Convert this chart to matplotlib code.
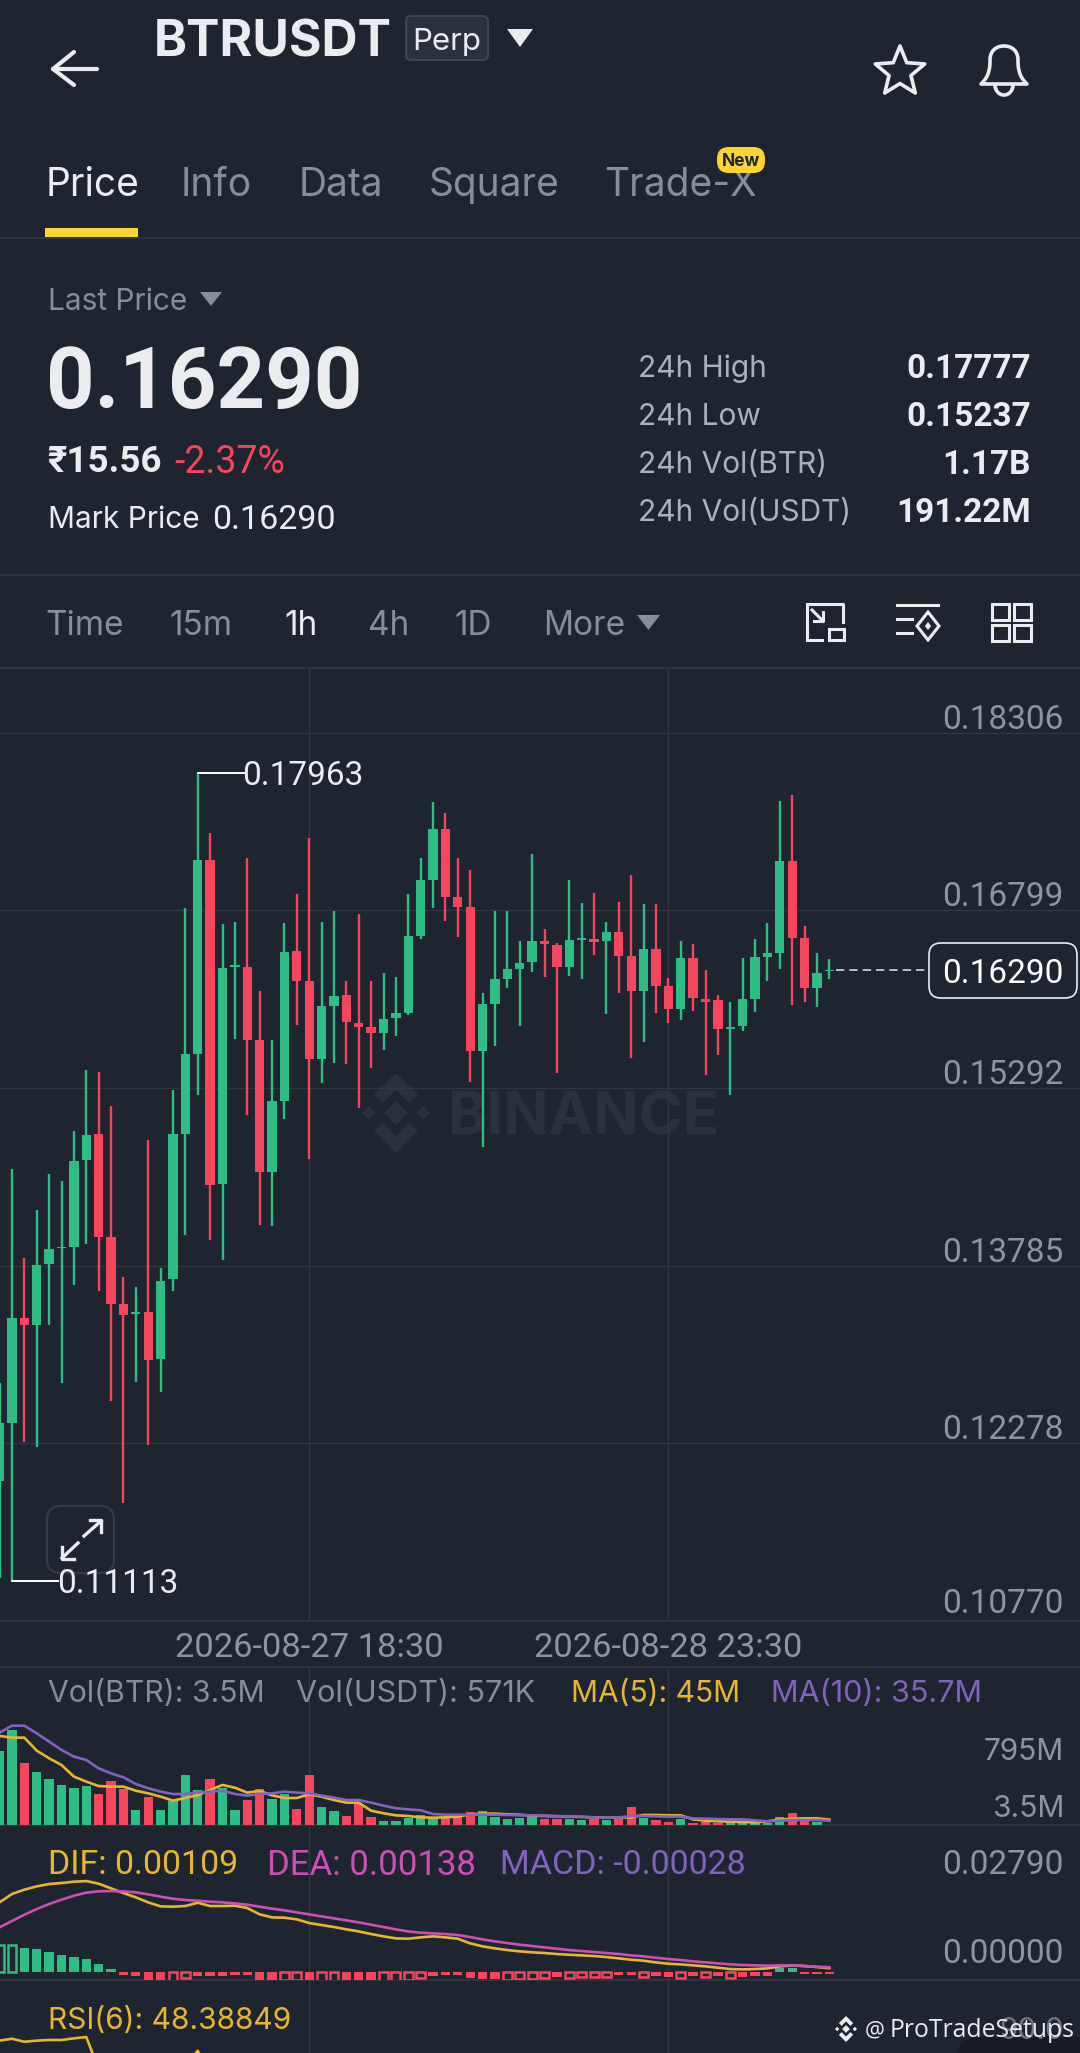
import matplotlib
matplotlib.use('Agg')
import matplotlib.pyplot as plt
import numpy as np
from matplotlib.patches import FancyBboxPatch, Polygon, Rectangle, PathPatch, Arc
from matplotlib.path import Path

plt.rcParams['font.family'] = ['Inter', 'DejaVu Sans']

# candles
opens = [.11954, .12453, .13343, .13279, .13800, .13933, .13942, .14678, .14899, .14027,
         .13458, .13373, .13391, .12989, .13670, .14902, .15581, .17231, .14475, .16322,
         .16322, .15700, .14578, .15186, .16454, .16203, .15539, .15991, .16079, .15847,
         .15807, .15757, .15884, .15926, .16581, .17059, .17488, .16915, .16830, .15610,
         .16008, .16214, .16302, .16358, .16539, .16505, .16316, .16548, .16553, .16539,
         .16613, .16415, .16118, .16471, .16158, .15966, .16398, .16048, .16039, .15793,
         .15819, .16050, .16406, .16440, .17220, .16564, .16144, .16283]
closes = [.12447, .13343, .13283, .13794, .13927, .13945, .14669, .14896, .14027, .13458,
          .13367, .13388, .12983, .13655, .14905, .15579, .17231, .14466, .16313, .16339,
          .15700, .14578, .15186, .16449, .16203, .15536, .15991, .16076, .15853, .15813,
          .15757, .15875, .15932, .16581, .17056, .17488, .16912, .16830, .15610, .16008,
          .16214, .16302, .16355, .16542, .16511, .16316, .16545, .16567, .16531, .16613,
          .16415, .16118, .16471, .16158, .15966, .16398, .16053, .16025, .15790, .15813,
          .16050, .16403, .16435, .17223, .16567, .16144, .16271, .16290]
highs = [.12786, .14602, .13846, .14260, .14566, .14502, .14929, .15447, .15429, .15141,
         .13688, .13603, .14854, .13764, .15277, .16824, .17963, .17460, .16683, .16700,
         .17243, .16115, .15700, .16689, .16943, .17418, .16697, .16796, .16203, .16765,
         .16197, .16265, .16231, .16943, .17248, .17720, .17630, .17248, .17146, .16096,
         .16796, .16793, .16536, .17276, .16638, .16525, .17056, .16861, .16949, .16700,
         .16867, .17096, .16858, .16850, .16226, .16539, .16516, .16290, .16079, .16019,
         .16398, .16559, .16694, .17726, .17777, .16669, .16435, .16384]
lows = [.11136, .11113, .12287, .12247, .13279, .12786, .13619, .13973, .13567, .12635,
        .11772, .12801, .12265, .12710, .13573, .14042, .15234, .14003, .13833, .15711,
        .15064, .14130, .14118, .15028, .15824, .14693, .15338, .15502, .15494, .15121,
        .15466, .15615, .15737, .15915, .16553, .16816, .16709, .16570, .15341, .14788,
        .15649, .16144, .15819, .16279, .16237, .15418, .16242, .16214, .16423, .15920,
        .16101, .15550, .15686, .15932, .15841, .15870, .15949, .15401, .15570, .15237,
        .15779, .15937, .16197, .16305, .16000, .16022, .15977, .16214]

# volume in millions
volume = [622, 795, 519, 446, 382, 332, 312, 326, 259, 371,
          301, 126, 232, 126, 204, 419, 293, 385, 307, 128,
          206, 301, 218, 257, 134, 419, 153, 117, 75, 176,
          70, 33, 33, 61, 84, 56, 61, 70, 112, 117,
          64, 50, 56, 64, 47, 53, 47, 42, 47, 45,
          47, 153, 56, 39, 25, 50, 14, 22, 14, 22,
          22, 22, 14, 64, 98, 33, 25, 3.5]
ma5 = [745, 731, 731, 622, 558, 502, 405, 363, 326, 321,
       321, 287, 265, 237, 204, 226, 251, 293, 335, 312,
       271, 285, 248, 226, 226, 257, 237, 209, 187, 187,
       120, 98, 81, 75, 64, 61, 64, 70, 89, 95,
       95, 89, 86, 78, 75, 73, 70, 67, 64, 61,
       64, 64, 84, 84, 81, 81, 47, 36, 31, 28,
       25, 22, 31, 45, 53, 56, 56, 45]
ma10 = [773, 831, 831, 767, 698, 628, 572, 544, 474, 432,
        399, 343, 307, 279, 259, 259, 273, 279, 287, 259,
        246, 259, 265, 279, 271, 265, 246, 229, 209, 209,
        187, 162, 140, 131, 123, 92, 86, 86, 86, 86,
        86, 84, 81, 81, 78, 75, 73, 70, 64, 61,
        64, 75, 75, 73, 70, 70, 56, 53, 50, 47,
        47, 39, 31, 36, 42, 42, 42, 35.7]

dif = [.02134, .02391, .02524, .02627, .02698, .02729, .02770, .02790, .02709, .02565,
       .02421, .02288, .02134, .02011, .02001, .02021, .02124, .02021, .02021, .02031,
       .01960, .01765, .01672, .01662, .01611, .01498, .01436, .01375, .01303, .01241,
       .01159, .01088, .01026, .01016, .01057, .01088, .01057, .01016, .00872, .00780,
       .00718, .00667, .00626, .00595, .00575, .00544, .00523, .00503, .00482, .00451,
       .00410, .00369, .00339, .00287, .00246, .00226, .00195, .00164, .00123, .00082,
       .00072, .00082, .00103, .00164, .00195, .00174, .00144, .00109]
dea = [.01365, .01560, .01754, .01929, .02083, .02216, .02339, .02432, .02473, .02483,
       .02473, .02442, .02380, .02309, .02247, .02206, .02185, .02155, .02134, .02103,
       .02062, .02001, .01939, .01888, .01826, .01765, .01703, .01642, .01580, .01518,
       .01447, .01375, .01303, .01241, .01200, .01180, .01159, .01129, .01067, .00995,
       .00934, .00882, .00831, .00790, .00749, .00708, .00667, .00636, .00605, .00575,
       .00544, .00503, .00472, .00431, .00390, .00359, .00318, .00287, .00257, .00226,
       .00205, .00195, .00185, .00195, .00195, .00174, .00154, .00138]
macd = [.00821, .00821, .00739, .00687, .00605, .00513, .00462, .00390, .00246, .00082,
        -.00103, -.00133, -.00257, -.00277, -.00277, -.00205, -.00123, -.00123, -.00123, -.00113,
        -.00113, -.00257, -.00287, -.00257, -.00257, -.00257, -.00308, -.00308, -.00257, -.00277,
        -.00277, -.00328, -.00328, -.00257, -.00205, -.00133, -.00103, -.00103, -.00205, -.00226,
        -.00226, -.00257, -.00226, -.00226, -.00205, -.00174, -.00205, -.00174, -.00154, -.00154,
        -.00113, -.00113, -.00174, -.00123, -.00154, -.00185, -.00123, -.00174, -.00133, -.00205,
        -.00174, -.00133, -.00133, .00103, .00103, -.00082, -.00082, -.00070]
macd_hollow = [0, 1, 14, 15, 23, 24, 26, 27, 31, 32, 33, 34, 41, 42, 43, 44, 46, 47, 48, 49, 52, 55, 57, 59]

# only the start of the RSI line is on screen
rsi6 = [89.5, 91.0, 88.6, 89.5, 90.0, 90.0, 91.3, 92.4, 66.8, 58, 52, 48, 50, 55, 62, 70, 81.4, 62]

price_ticks = [.18306, .16799, .15292, .13785, .12278, .10770]
price_labels = ['0.18306', '0.16799', '0.15292', '0.13785', '0.12278', '0.10770']
date_idx = [25, 54]
date_labels = ['2026-08-27 18:30', '2026-08-28 23:30']
last_price = .16290

BG = '#1e2530'
GRID = '#303742'
GREEN = '#2ebd85'
RED = '#f6465d'
MUTED = '#848e9c'
AXIS_TXT = '#8f959e'
WHITE = '#eaecef'
YELLOW = '#e8b52f'
PINK = '#cc4fb5'
PURPLE = '#8263c0'
NUM = ['Roboto', 'Inter', 'DejaVu Sans']
NUM_SIZE = 24
W, H = 1080, 2053
PX = 0.72  # points per pixel at dpi 100

fig = plt.figure(figsize=(W / 100, H / 100), dpi=100, facecolor=BG)


def panel(top, bottom, zorder=1):
    ax = fig.add_axes([0, 1 - bottom / H, 1, (bottom - top) / H], zorder=zorder)
    ax.patch.set_visible(False)
    ax.axis('off')
    return ax


bg = panel(0, H, 0)
bg.set_xlim(0, W)
bg.set_ylim(H, 0)
ui = panel(0, H, 5)
ui.set_xlim(0, W)
ui.set_ylim(H, 0)


def txt(x, yc, s, size, color=WHITE, ha='left', weight='normal', ax=ui, **kw):
    # yc is the middle of the capitals
    base = yc + 0.3635 * size / PX
    return ax.text(x, base, s, fontsize=size, color=color, ha=ha, va='baseline', fontweight=weight, **kw)


def logo(ax, cx, cy, s, color, zorder=1):
    def diamond(x, y, r):
        ax.add_patch(Polygon([(x, y - r), (x + r, y), (x, y + r), (x - r, y)], fc=color, ec='none', zorder=zorder))
    diamond(cx, cy, 0.3 * s)
    diamond(cx - 0.68 * s, cy, 0.17 * s)
    diamond(cx + 0.68 * s, cy, 0.17 * s)
    for sgn in (-1, 1):
        ax.add_patch(Polygon([(cx, cy + sgn * s), (cx + 0.55 * s, cy + sgn * 0.45 * s),
                              (cx + 0.34 * s, cy + sgn * 0.24 * s), (cx, cy + sgn * 0.58 * s),
                              (cx - 0.34 * s, cy + sgn * 0.24 * s), (cx - 0.55 * s, cy + sgn * 0.45 * s)],
                             fc=color, ec='none', zorder=zorder))


# chart panels share one index scale: candle 25 sits at 309px, 12.385px apart
x = np.arange(len(opens))
STEP = 12.385
xlim = (25 - 309.2 / STEP, 25 + (W - 309.2) / STEP)

price_ax = panel(669, 1621)
price_ax.set_xlim(*xlim)
price_ax.set_ylim(.10770, .18848)
vol_ax = panel(1667, 1825)
vol_ax.set_xlim(*xlim)
vol_ax.set_ylim(0, 1322)
macd_ax = panel(1825, 1980)
macd_ax.set_xlim(*xlim)
macd_ax.set_ylim(-.00255, .04515)
rsi_ax = panel(1980, H)
rsi_ax.set_xlim(*xlim)
rsi_ax.set_ylim(79.6, 138)

for ax in (price_ax, vol_ax, macd_ax, rsi_ax):
    for i in date_idx:
        ax.axvline(i, color=GRID, lw=1.0, zorder=0)

for t in price_ticks[:-1]:
    price_ax.axhline(t, color=GRID, lw=1.0, zorder=0)

for t, lab in zip(price_ticks, price_labels):
    off = 17 if lab == '0.10770' else 13
    price_ax.annotate(lab, (1064 / W, t), xycoords=price_ax.get_yaxis_transform(), xytext=(0, off),
                      textcoords='offset pixels', ha='right', va='center', fontsize=NUM_SIZE, color=AXIS_TXT,
                      family=NUM, annotation_clip=False)

for i, lab in zip(date_idx, date_labels):
    price_ax.annotate(lab, (i, 0), xycoords=price_ax.get_xaxis_transform(), xytext=(0, -27),
                      textcoords='offset pixels', ha='center', va='center', fontsize=24.8, color=AXIS_TXT,
                      family=NUM, annotation_clip=False)

cols = [GREEN if c >= o else RED for o, c in zip(opens, closes)]
price_ax.vlines(x, lows, highs, colors=cols, lw=1.7, zorder=2)
price_ax.bar(x, np.abs(np.array(closes) - np.array(opens)), bottom=np.minimum(opens, closes),
             width=0.75, color=cols, zorder=3)

# last price marker
price_ax.plot([x[-1] + 0.5, 59.5 + 25], [last_price, last_price], color=WHITE, lw=1.2, dashes=(5, 3), zorder=2, alpha=.9)

# high / low leaders
hi = int(np.argmax(highs))
lo = int(np.argmin(lows))
price_ax.plot([hi, hi + 3.75], [highs[hi], highs[hi]], color='white', lw=1.4, zorder=4)
price_ax.plot([lo, lo + 3.75], [lows[lo], lows[lo]], color='white', lw=1.4, zorder=4)
price_ax.annotate('0.17963', (hi + 3.6, highs[hi]), xytext=(0, -3), textcoords='offset pixels', va='center',
                  fontsize=NUM_SIZE, color=WHITE, zorder=6, family=NUM)

# the low label sits above the expand button, so it goes on the top layer
ui.annotate('0.11113', (57, 1584), va='center', fontsize=NUM_SIZE, color=WHITE, zorder=6, family=NUM)

# volume
vol_ax.bar(x, volume, width=0.75, color=cols, zorder=2)
vol_ax.plot(x, ma5, color=YELLOW, lw=1.9, zorder=3)
vol_ax.plot(x, ma10, color=PURPLE, lw=1.9, zorder=4)

# macd
macd_cols = [GREEN if v >= 0 else RED for v in macd]
for i, v in enumerate(macd):
    if i in macd_hollow:
        macd_ax.bar(i, v, width=0.72, facecolor=BG, edgecolor=macd_cols[i], lw=1.8, zorder=2)
    else:
        macd_ax.bar(i, v, width=0.75, color=macd_cols[i], zorder=2)
macd_ax.plot(x, dif, color=YELLOW, lw=1.9, zorder=3)
macd_ax.plot(x, dea, color=PINK, lw=1.9, zorder=4)

# rsi
rsi_ax.plot(x[:len(rsi6)], rsi6, color=YELLOW, lw=1.9, zorder=3)

# panel borders
for yy in (238, 575, 668, 1621, 1667, 1825, 1980):
    bg.plot([0, W], [yy, yy], color=GRID, lw=1.3, zorder=1)

# watermark behind the candles
wm = '#2a313c'
logo(bg, 396, 1113, 40, wm)
txt(447, 1113, 'BINANCE', 43, color=wm, weight='bold', ax=bg)

# header
txt(154, 38, 'BTRUSDT', 36, color=WHITE, weight='bold')
ui.add_patch(FancyBboxPatch((406, 16), 82, 44, boxstyle='round,pad=0,rounding_size=5', fc='#2b323d', ec='#414955', lw=1.3))
txt(447, 39, 'Perp', 22.5, ha='center')
ui.add_patch(Polygon([(507, 29), (533, 29), (520, 47)], fc=WHITE, ec='none'))
ui.plot([53, 97], [69, 69], color=WHITE, lw=3, solid_capstyle='round')
ui.plot([74, 53, 74], [52, 69, 85], color=WHITE, lw=3, solid_capstyle='round', solid_joinstyle='round')
ang = np.radians(np.arange(0, 360, 36) - 90)
rad = np.where(np.arange(10) % 2 == 0, 26, 11.5)
ui.add_patch(Polygon(np.c_[900 + rad * np.cos(ang), 72 + rad * np.sin(ang)], fc='none', ec=WHITE, lw=2.6, joinstyle='round'))
bell = Path([(981, 84), (990, 76), (990, 66), (990, 60), (990, 50), (997, 46), (1004, 46),
             (1011, 46), (1018, 50), (1018, 60), (1018, 66), (1018, 76), (1027, 84), (981, 84)],
            [Path.MOVETO, Path.CURVE4, Path.CURVE4, Path.CURVE4, Path.CURVE4, Path.CURVE4, Path.CURVE4,
             Path.CURVE4, Path.CURVE4, Path.CURVE4, Path.CURVE4, Path.CURVE4, Path.CURVE4, Path.CLOSEPOLY])
ui.add_patch(PathPatch(bell, fc='none', ec=WHITE, lw=2.6, joinstyle='round'))
ui.add_patch(Arc((1004, 85), 18, 20, theta1=0, theta2=180, ec=WHITE, lw=2.6))

# tabs
for s, xx, c in [('Price', 46, WHITE), ('Info', 181, MUTED), ('Data', 299, MUTED), ('Square', 429, MUTED), ('Trade-X', 604, MUTED)]:
    txt(xx, 182, s, 28, color=c)
ui.add_patch(Rectangle((45, 228), 93, 9, fc='#fcd535', ec='none'))
ui.add_patch(FancyBboxPatch((717, 147), 48, 26, boxstyle='round,pad=0,rounding_size=12', fc='#fcd535', ec='none', zorder=6))
txt(741, 160, 'New', 12.5, color='#1e2530', ha='center', weight='bold', zorder=7)

# price block
txt(48, 299, 'Last Price', 21.5, color=MUTED)
ui.add_patch(Polygon([(200, 292), (222, 292), (211, 306)], fc=MUTED, ec='none'))
txt(46, 377, '0.16290', 61, color=WHITE, weight='bold', family=NUM)
txt(47, 459, '₹15.56', 26.5, color=WHITE, weight='bold', family=NUM)
txt(174, 459, '-2.37%', 27, color=RED, family=NUM)
txt(48, 517, 'Mark Price', 21.5)
txt(212, 517, '0.16290', 24.5, family=NUM)
stat_names = ['24h High', '24h Low', '24h Vol(BTR)', '24h Vol(USDT)']
stat_vals = ['0.17777', '0.15237', '1.17B', '191.22M']
for yy, n, v in zip([366, 414, 462, 510], stat_names, stat_vals):
    txt(638, yy, n, 21.5, color='#aab1bc')
    txt(1031, yy, v, NUM_SIZE, color=WHITE, ha='right', weight='bold', family=NUM)

# interval bar
for s, xx, c in [('Time', 45, MUTED), ('15m', 169, MUTED), ('1h', 284, WHITE), ('4h', 368, MUTED), ('1D', 454, MUTED), ('More', 543, MUTED)]:
    txt(xx, 623, s, 24, color=c)
ui.add_patch(Polygon([(637, 615), (660, 615), (648.5, 630)], fc=MUTED, ec='none'))

# toolbar icons
ui.plot([828, 807, 807, 822], [604, 604, 640, 640], color=WHITE, lw=2.2, solid_joinstyle='miter')
ui.plot([828, 843, 843], [604, 604, 622], color=WHITE, lw=2.2)
ui.add_patch(Rectangle((829, 629), 15, 11, fc='none', ec=WHITE, lw=2.2))
ui.plot([812, 823], [610, 621], color=WHITE, lw=2.2)
ui.plot([814, 823, 823], [621, 621, 612], color=WHITE, lw=2.2)
ui.plot([897, 938], [605, 605], color=WHITE, lw=2.2)
ui.plot([897, 912], [619, 619], color=WHITE, lw=2.2)
ui.plot([897, 912], [633, 633], color=WHITE, lw=2.2)
ui.add_patch(Polygon([(928, 612), (939, 626), (928, 640), (917, 626)], fc='none', ec=WHITE, lw=2.2))
ui.add_patch(Polygon([(928, 622), (931, 626), (928, 630), (925, 626)], fc=WHITE, ec='none'))
for xx in (992, 1014):
    for yy in (604, 625):
        ui.add_patch(Rectangle((xx, yy), 17, 16, fc='none', ec=WHITE, lw=2.2))

# current price box
ui.add_patch(FancyBboxPatch((929, 943), 148, 55, boxstyle='round,pad=0,rounding_size=12', fc=BG, ec=WHITE, lw=1.2))
txt(1064, 971, '0.16290', NUM_SIZE, ha='right', color='white', family=NUM)

# expand button
ui.add_patch(FancyBboxPatch((47, 1506), 67, 67, boxstyle='round,pad=0,rounding_size=14', fc=BG, ec='#3a414d', lw=1.5, alpha=.85))
ui.plot([62, 78], [1558, 1543], color=WHITE, lw=2.4)
ui.plot([62, 62, 74], [1547, 1559, 1559], color=WHITE, lw=2.4)
ui.plot([84, 101], [1536, 1521], color=WHITE, lw=2.4)
ui.plot([90, 101, 101], [1520, 1520, 1532], color=WHITE, lw=2.4)

# indicator legends
txt(48, 1691, 'Vol(BTR): 3.5M', 21.7, color=MUTED)
txt(296, 1691, 'Vol(USDT): 571K', 22, color=MUTED)
txt(571, 1691, 'MA(5): 45M', 21.5, color=YELLOW)
txt(771, 1691, 'MA(10): 35.7M', 22, color=PURPLE)
txt(1064, 1749, '795M', 21.5, color=AXIS_TXT, ha='right')
txt(1064, 1806, '3.5M', 21.5, color=AXIS_TXT, ha='right')
txt(48, 1862, 'DIF: 0.00109', 24.5, color=YELLOW, family=NUM)
txt(267, 1862, 'DEA: 0.00138', 25, color=PINK, family=NUM)
txt(500, 1862, 'MACD: -0.00028', 24.5, color=PURPLE, family=NUM)
txt(1064, 1862, '0.02790', NUM_SIZE, color=AXIS_TXT, ha='right', family=NUM)
txt(1064, 1951, '0.00000', NUM_SIZE, color=AXIS_TXT, ha='right', family=NUM)
txt(48, 2018, 'RSI(6): 48.38849', 21.5, color=YELLOW)

# bottom corner, source stamp over the axis label
ui.add_patch(FancyBboxPatch((957, 2037), 160, 50, boxstyle='round,pad=0,rounding_size=22', fc='#161a21', ec='none'))
txt(1064, 2028, '90.0', 21.5, color='#6f7680', ha='right')
logo(ui, 846, 2029, 13, WHITE, zorder=6)
txt(865, 2028, '@', 16, color=WHITE, zorder=7, fontname='Open Sans')
txt(890, 2028, 'ProTradeSetups', 17.8, color=WHITE, zorder=7, fontname='Open Sans')

fig.savefig('out.png', dpi=100, facecolor=BG)
